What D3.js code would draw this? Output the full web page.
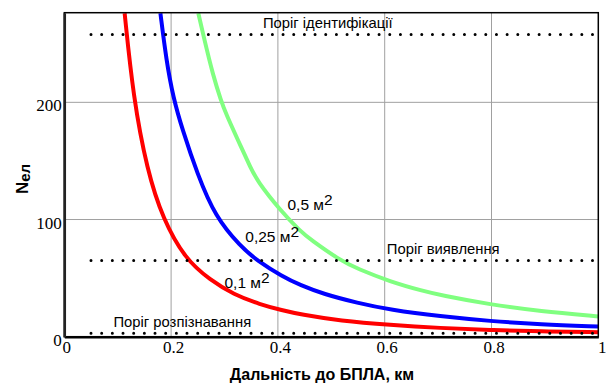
<!DOCTYPE html>
<html><head><meta charset="utf-8">
<script src="https://cdn.jsdelivr.net/npm/d3@7"></script>
<style>body{margin:0;background:#fff}svg{display:block}</style>
</head><body>
<svg id="c" width="607" height="385"></svg>
<script>
// ---- data ----
const xTicks = [0, 0.2, 0.4, 0.6, 0.8, 1];
const xTickLabels = ["0", "0.2", "0.4", "0.6", "0.8", "1"];
const yTicks = [0, 100, 200];
const yTickLabels = ["0", "100", "200"];

const redDist  = [0.113,0.129,0.155,0.185,0.227,0.273,0.317,0.367,0.408,0.442,0.517,0.61,0.704,0.798,0.891,1.0];
const redN     = [276,205,142,100,66,48.5,36,27.5,22.5,19,13.5,10,7.4,5.6,4.6,3.9];
const blueDist = [0.180,0.191,0.204,0.221,0.249,0.283,0.33,0.361,0.408,0.442,0.485,0.549,0.61,0.704,0.798,0.891,1.0];
const blueN    = [276,236,204,177,139,102,77,65,51.5,44,36.5,28.8,23,17.3,13.3,10.5,8.7];
const greenDist= [0.251,0.26,0.279,0.294,0.301,0.333,0.348,0.361,0.404,0.442,0.461,0.517,0.549,0.61,0.672,0.704,0.798,0.891,1.0];
const greenN   = [276,258,222,201,192,160,145,133,108,90,83,65,58,47,39,35.5,27.4,21.7,17.3];

const thresholdNames = ["Поріг ідентифікації", "Поріг виявлення", "Поріг розпізнавання"];
const thresholdValues = [258, 65, 3];
const thresholdRange = [0.05, 1.0];
const thresholdLabelX = [0.372, 0.604, 0.092];

const curveLabels = ["0,1 м", "0,25 м", "0,5 м"];
const curveLabelPos = [[0.3, 41.5], [0.339, 80.5], [0.418, 108.5]];

// ---- layout ----
const svg = d3.select("#c");
const L = 64.3, R = 598.3, T = 12.7, B = 336.7;
const x = d3.scaleLinear().domain([0, 1]).range([L, R]);
const y = d3.scaleLinear().domain([0, 276.5]).range([B, T]);

svg.append("defs").append("clipPath").attr("id", "clip")
  .append("rect").attr("x", L).attr("y", T).attr("width", R - L).attr("height", B - T);

// grid
const grid = svg.append("g").attr("stroke", "#a0a0a0").attr("stroke-width", 1);
xTicks.filter(v => v > 0 && v < 1).forEach(v => {
  grid.append("line").attr("x1", x(v)).attr("x2", x(v)).attr("y1", T).attr("y2", B);
});
yTicks.filter(v => v > 0).forEach(v => {
  grid.append("line").attr("x1", L).attr("x2", R).attr("y1", y(v)).attr("y2", y(v));
});

// curves
const line = d3.line().x(d => x(d[0])).y(d => y(d[1])).curve(d3.curveBasis);
const series = [
  {d: redDist, n: redN, c: "#ff0000"},
  {d: blueDist, n: blueN, c: "#0000ff"},
  {d: greenDist, n: greenN, c: "#80ff80"}
];
const cg = svg.append("g").attr("clip-path", "url(#clip)");
series.forEach(s => {
  cg.append("path").datum(s.d.map((v, i) => [v, s.n[i]]))
    .attr("d", line).attr("fill", "none").attr("stroke", s.c)
    .attr("stroke-width", 4).attr("stroke-linejoin", "round");
});

// threshold dotted lines
thresholdValues.forEach(v => {
  svg.append("line").attr("x1", x(thresholdRange[0])).attr("x2", x(thresholdRange[1]))
    .attr("y1", y(v)).attr("y2", y(v))
    .attr("stroke", "#000").attr("stroke-width", 3)
    .attr("stroke-linecap", "round").attr("stroke-dasharray", "0 10.67");
});

// frame
svg.append("rect").attr("x", L).attr("y", T).attr("width", R - L).attr("height", B - T)
  .attr("fill", "none").attr("stroke", "#000").attr("stroke-width", 1.5);

// axes
const xAxis = d3.axisBottom(x).tickValues(xTicks).tickFormat((d, i) => xTickLabels[i]).tickSize(0).tickPadding(0);
const gx = svg.append("g").attr("transform", `translate(0,${B})`).call(xAxis);
gx.select(".domain").attr("stroke", "#000").attr("stroke-width", 2.5);
gx.selectAll("text").attr("font-family", "Liberation Serif, Times New Roman, serif")
  .attr("font-size", 17).attr("fill", "#000").attr("dy", 0).attr("y", 16)
  .attr("dx", (d, i) => i === xTicks.length - 1 ? 3.5 : 2);

const yAxis = d3.axisLeft(y).tickValues(yTicks).tickFormat((d, i) => yTickLabels[i]).tickSize(0).tickPadding(2.5);
const gy = svg.append("g").attr("transform", `translate(${L},0)`).call(yAxis);
gy.select(".domain").attr("stroke", "#222").attr("stroke-width", 2.5);
gy.selectAll("text").attr("font-family", "Liberation Serif, Times New Roman, serif")
  .attr("font-size", 17).attr("fill", "#000").attr("dy", 0).attr("y", 8.5);

// threshold labels
const sans = "Liberation Sans, Arial, sans-serif";
thresholdNames.forEach((t, i) => {
  svg.append("text").attr("x", x(thresholdLabelX[i])).attr("y", y(thresholdValues[i]) - 6.5)
    .attr("font-family", sans).attr("font-size", 14.8).attr("fill", "#000").text(t);
});

// curve labels
curveLabels.forEach((t, i) => {
  const tx = svg.append("text").attr("x", x(curveLabelPos[i][0])).attr("y", y(curveLabelPos[i][1]))
    .attr("font-family", sans).attr("font-size", 15.5).attr("fill", "#000");
  tx.append("tspan").text(t);
  tx.append("tspan").attr("dy", -5).text("2");
});

// axis titles
svg.append("text").attr("x", 322).attr("y", 380).attr("text-anchor", "middle")
  .attr("font-family", sans).attr("font-weight", "bold").attr("font-size", 16)
  .attr("fill", "#000").text("Дальність до БПЛА, км");

const yt = svg.append("text").attr("transform", "translate(28,179) rotate(-90)")
  .attr("text-anchor", "middle").attr("font-family", sans).attr("font-weight", "bold")
  .attr("font-size", 17).attr("fill", "#000");
yt.append("tspan").text("N");
yt.append("tspan").attr("dy", 2).attr("font-size", 15).text("ел");
</script>
</body></html>
